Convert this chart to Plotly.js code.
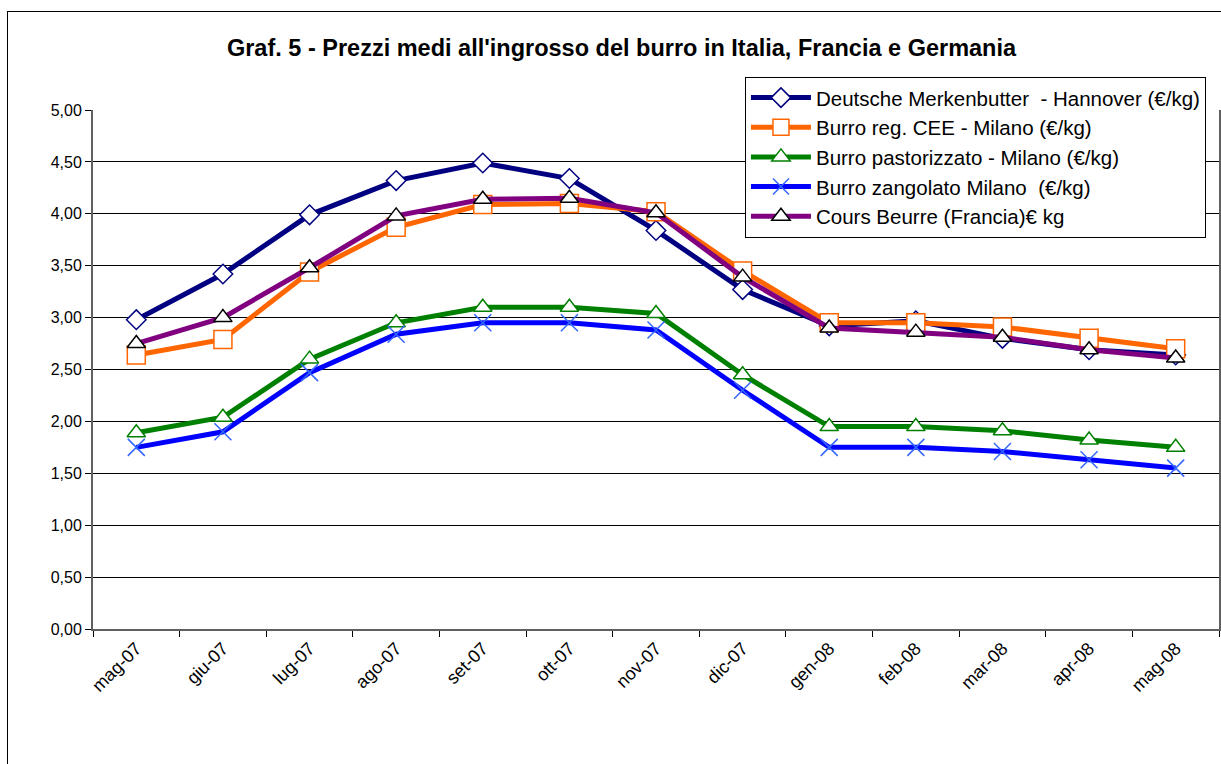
<!DOCTYPE html>
<html>
<head>
<meta charset="utf-8">
<script src="https://cdn.plot.ly/plotly-3.0.1.min.js"></script>
<style>
  body { margin: 0; background: #fff; }
  #wrap { position: relative; width: 1221px; height: 764px; overflow: hidden; }
  #chart { width: 1221px; height: 764px; }
  /* outer frame of the Excel chart object */
  #frame { position: absolute; left: 7px; top: 11px; width: 1240px; height: 780px;
           border: 1px solid #000; pointer-events: none; }
</style>
</head>
<body>
<div id="wrap">
  <div id="chart"></div>
  <div id="frame"></div>
</div>
<script>
// Months on the x axis
const months = ['mag-07', 'giu-07', 'lug-07', 'ago-07', 'set-07', 'ott-07', 'nov-07',
                'dic-07', 'gen-08', 'feb-08', 'mar-08', 'apr-08', 'mag-08'];

// Series values (€/kg)
const hannover   = [2.98, 3.42, 3.99, 4.32, 4.49, 4.34, 3.84, 3.27, 2.92, 2.97, 2.80, 2.69, 2.64];
const burroCee   = [2.64, 2.79, 3.44, 3.87, 4.09, 4.10, 4.02, 3.45, 2.95, 2.95, 2.91, 2.80, 2.70];
const pastorizz  = [1.89, 2.04, 2.60, 2.95, 3.10, 3.10, 3.04, 2.45, 1.95, 1.95, 1.91, 1.82, 1.75];
const zangolato  = [1.75, 1.90, 2.47, 2.84, 2.95, 2.95, 2.88, 2.30, 1.75, 1.75, 1.71, 1.63, 1.55];
const coursBeurre = [2.75, 3.00, 3.48, 3.98, 4.14, 4.15, 4.01, 3.39, 2.90, 2.86, 2.81, 2.69, 2.61];

const seriesNames = [
    'Deutsche Merkenbutter  - Hannover (€/kg)',
    'Burro reg. CEE - Milano (€/kg)',
    'Burro pastorizzato - Milano (€/kg)',
    'Burro zangolato Milano  (€/kg)',
    'Cours Beurre (Francia)€ kg'
];

const yTicks = [0, 0.5, 1, 1.5, 2, 2.5, 3, 3.5, 4, 4.5, 5];

function makeTrace(name, values, lineColor, marker) {
    return {
        x: months,
        y: values,
        name: name,
        legendgroup: name,
        type: 'scatter',
        mode: 'lines+markers',
        line: { color: lineColor, width: 5 },
        marker: marker,
        hoverinfo: 'skip'
    };
}

const traces = [
    makeTrace(seriesNames[0], hannover, '#000080',
        { symbol: 'diamond', size: 15, color: '#fff', line: { color: '#000080', width: 1.5 } }),
    makeTrace(seriesNames[1], burroCee, '#FF6600',
        { symbol: 'square', size: 18, color: '#fff', line: { color: '#FF6600', width: 1.5 } }),
    makeTrace(seriesNames[2], pastorizz, '#008000',
        { symbol: 'triangle-up', size: 16, color: '#fff', line: { color: '#008000', width: 1.5 } }),
    makeTrace(seriesNames[3], zangolato, '#0000FF',
        { symbol: 'x-thin-open', size: 17, color: '#3366FF', line: { color: '#3366FF', width: 1.5 } }),
    makeTrace(seriesNames[4], coursBeurre, '#800080',
        { symbol: 'triangle-up', size: 16, color: '#fff', line: { color: '#000', width: 1.5 } })
];

const layout = {
    width: 1221,
    height: 764,
    margin: { l: 93, r: 2, t: 110, b: 135 },
    paper_bgcolor: '#fff',
    plot_bgcolor: '#fff',
    font: { family: 'Liberation Sans, Arial, sans-serif', color: '#000', size: 16 },
    title: {
        text: "<b>Graf. 5 - Prezzi medi all'ingrosso del burro in Italia, Francia e Germania</b>",
        font: { size: 23.5, family: 'Liberation Sans, Arial, sans-serif', color: '#000' },
        xref: 'container', x: 0.509, xanchor: 'center',
        yref: 'container', y: 0.938, yanchor: 'middle'
    },
    xaxis: {
        type: 'category',
        range: [-0.5, 12.5],
        tickangle: -45,
        tickson: 'boundaries',
        ticks: 'outside',
        ticklen: 6,
        tickcolor: '#000',
        showline: true,
        linecolor: '#606060',
        linewidth: 2,
        showgrid: false,
        zeroline: false,
        tickfont: { size: 18 }
    },
    yaxis: {
        range: [0, 5],
        tickmode: 'array',
        tickvals: yTicks,
        tickformat: '.2f',
        ticks: 'outside',
        ticklen: 6,
        tickcolor: '#000',
        showline: true,
        mirror: true,
        linecolor: '#606060',
        linewidth: 2,
        showgrid: true,
        gridcolor: '#000',
        gridwidth: 1,
        zeroline: false,
        tickfont: { size: 16 }
    },
    separators: ',.',
    showlegend: true,
    legend: {
        x: 0.579, xanchor: 'left',
        y: 1.064, yanchor: 'top',
        bgcolor: '#fff',
        bordercolor: '#000',
        borderwidth: 1,
        font: { size: 20.5 },
        itemwidth: 60,
        tracegroupgap: 11,
        traceorder: 'normal'
    }
};

Plotly.newPlot('chart', traces, layout, { staticPlot: true, displayModeBar: false });
</script>
</body>
</html>
